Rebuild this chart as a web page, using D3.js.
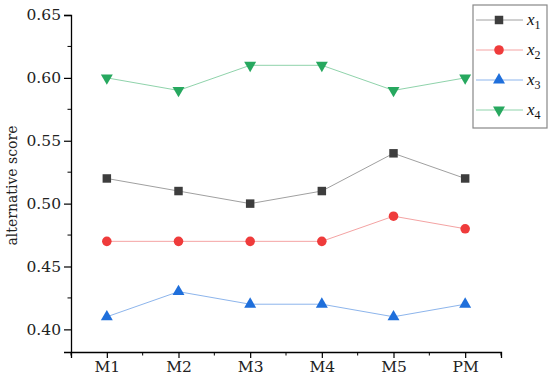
<!DOCTYPE html>
<html>
<head>
<meta charset="utf-8">
<script src="https://cdn.jsdelivr.net/npm/d3@7"></script>
<style>
  body { margin: 0; background: #fff; }
  text { font-family: "DejaVu Serif", "Liberation Serif", serif; }
</style>
</head>
<body>
<div id="chart"></div>
<script>
var categories = ["M1", "M2", "M3", "M4", "M5", "PM"];
var x1 = [0.52, 0.51, 0.50, 0.51, 0.54, 0.52];
var x2 = [0.47, 0.47, 0.47, 0.47, 0.49, 0.48];
var x3 = [0.41, 0.43, 0.42, 0.42, 0.41, 0.42];
var x4 = [0.60, 0.59, 0.61, 0.61, 0.59, 0.60];
var yTicks = [0.40, 0.45, 0.50, 0.55, 0.60, 0.65];
var seriesNames = ["1", "2", "3", "4"];

var series = [
    {name: seriesNames[0], values: x1, marker: "#3d3d3d", line: "#a0a0a0", symbol: d3.symbolSquare, rot: 0},
    {name: seriesNames[1], values: x2, marker: "#ef3b3b", line: "#f4a3a3", symbol: d3.symbolCircle, rot: 0},
    {name: seriesNames[2], values: x3, marker: "#1f6fdb", line: "#8db5ec", symbol: d3.symbolTriangle, rot: 0},
    {name: seriesNames[3], values: x4, marker: "#27a85f", line: "#8fd3ab", symbol: d3.symbolTriangle, rot: 180}
];

var width = 550, height = 392;
var margin = {top: 15, right: 49, bottom: 40, left: 71};

var svg = d3.select("#chart").append("svg")
    .attr("width", width).attr("height", height);

var x = d3.scaleLinear()
    .domain([0.5, categories.length + 0.5])
    .range([margin.left, width - margin.right]);
var y = d3.scaleLinear()
    .domain([0.382, 0.65])
    .range([height - margin.bottom, margin.top]);

// x axis
var xAxis = svg.append("g")
    .attr("transform", "translate(0," + (height - margin.bottom) + ")");
xAxis.call(d3.axisBottom(x)
    .tickValues(d3.range(1, categories.length + 1))
    .tickFormat(function(d) { return categories[d - 1]; })
    .tickSize(6).tickPadding(3));
xAxis.selectAll(".minor").data(d3.range(0.5, categories.length + 1, 1))
    .enter().append("line")
    .attr("x1", function(d) { return x(d); }).attr("x2", function(d) { return x(d); })
    .attr("y1", 0).attr("y2", 3.5).attr("stroke", "#000");

// y axis
var yAxis = svg.append("g")
    .attr("transform", "translate(" + margin.left + ",0)");
yAxis.call(d3.axisLeft(y)
    .tickValues(yTicks)
    .tickFormat(d3.format(".2f"))
    .tickSize(7).tickPadding(3));
yAxis.selectAll(".minor").data(d3.range(0.425, 0.65, 0.05))
    .enter().append("line")
    .attr("y1", function(d) { return y(d); }).attr("y2", function(d) { return y(d); })
    .attr("x1", 0).attr("x2", -3.5).attr("stroke", "#000");

svg.selectAll(".domain").attr("stroke", "#000").attr("stroke-width", 1.3);
svg.selectAll(".tick line").attr("stroke-width", 1.2);
svg.selectAll(".tick text").attr("font-size", 15.5).attr("fill", "#222")
    .style("font-family", "'DejaVu Serif', serif");

svg.append("text")
    .attr("transform", "translate(17," + ((margin.top + height - margin.bottom) / 2 + 2) + ") rotate(-90)")
    .attr("text-anchor", "middle")
    .attr("font-size", 14)
    .attr("fill", "#222")
    .text("alternative score");

// lines and markers
var line = d3.line()
    .x(function(d, i) { return x(i + 1); })
    .y(function(d) { return y(d); });

series.forEach(function(s) {
    svg.append("path")
        .datum(s.values)
        .attr("fill", "none")
        .attr("stroke", s.line)
        .attr("stroke-width", 1)
        .attr("d", line);
    svg.selectAll(null).data(s.values).enter().append("path")
        .attr("d", d3.symbol().type(s.symbol).size(s.symbol === d3.symbolTriangle ? 62 : 72))
        .attr("transform", function(d, i) {
            return "translate(" + x(i + 1) + "," + y(d) + ") rotate(" + s.rot + ")";
        })
        .attr("fill", s.marker);
});

// legend
var legend = svg.append("g").attr("transform", "translate(473,5)");
legend.append("rect")
    .attr("width", 74).attr("height", 123)
    .attr("fill", "#fff").attr("stroke", "#888").attr("stroke-width", 1.2);
series.forEach(function(s, i) {
    var g = legend.append("g").attr("transform", "translate(0," + (15 + i * 30) + ")");
    g.append("line").attr("x1", 3).attr("x2", 50).attr("y1", 0).attr("y2", 0)
        .attr("stroke", s.line).attr("stroke-width", 1);
    g.append("path")
        .attr("d", d3.symbol().type(s.symbol).size(s.symbol === d3.symbolTriangle ? 62 : 72))
        .attr("transform", "translate(26,0) rotate(" + s.rot + ")")
        .attr("fill", s.marker);
    var t = g.append("text").attr("x", 54).attr("y", 5).attr("font-size", 17).attr("fill", "#111")
        .style("font-family", "'Liberation Serif', serif");
    t.append("tspan").attr("font-style", "italic").text("x");
    t.append("tspan").attr("font-size", 12).attr("dy", 4).text(s.name);
});
</script>
</body>
</html>
